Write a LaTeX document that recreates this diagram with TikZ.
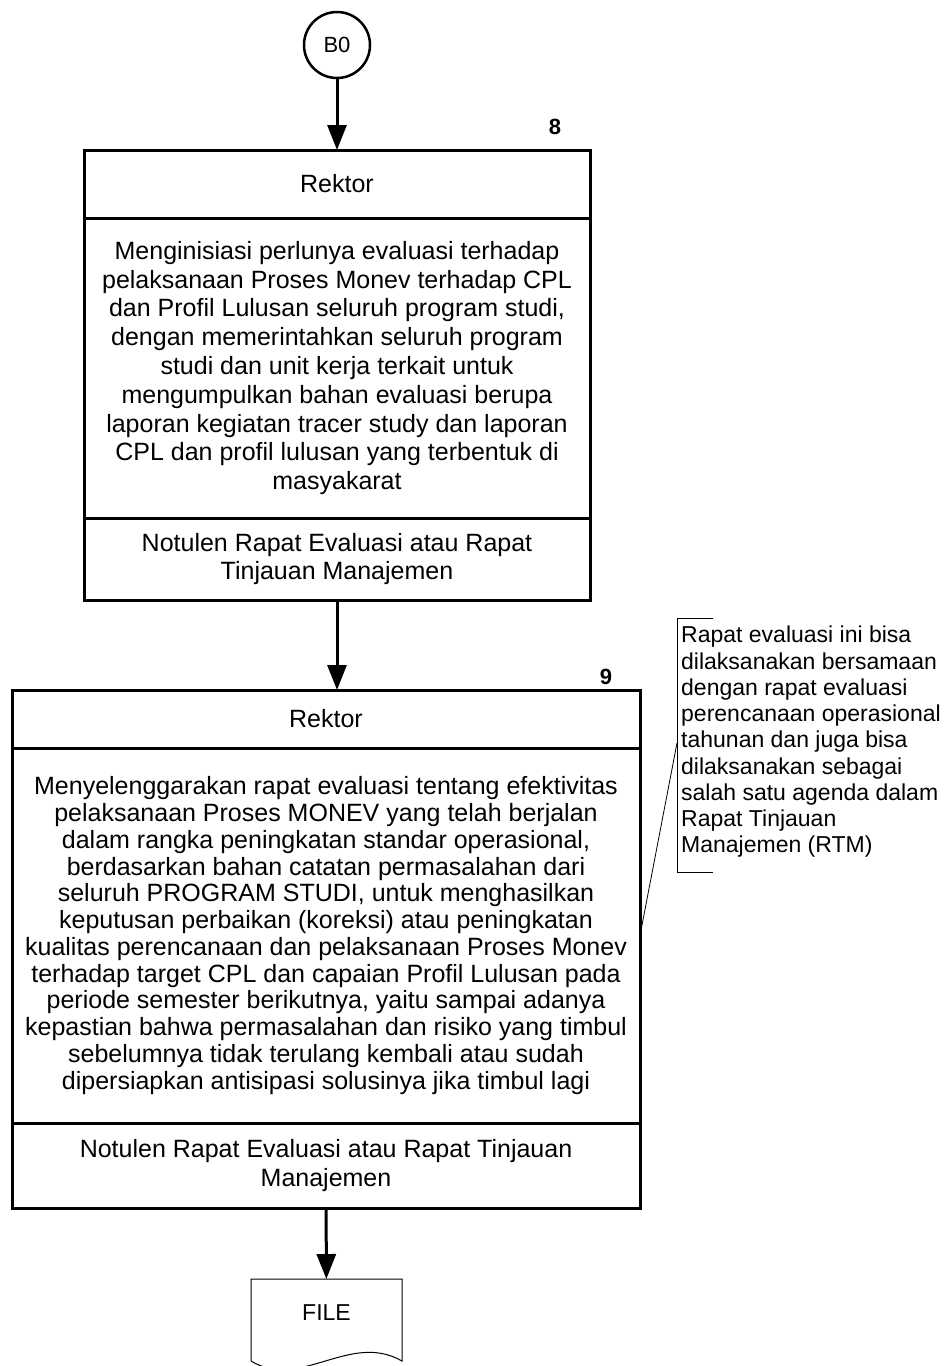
\documentclass[tikz,border=0pt]{standalone}
\usepackage{fontspec}
\setmainfont{Liberation Sans}
\usetikzlibrary{positioning,arrows.meta}

\begin{document}
\begin{tikzpicture}[x=1pt,y=-1pt,
  box/.style={draw,line width=3pt,inner sep=0pt,outer sep=0pt,align=center,font=\fontsize{25}{28.5}\selectfont},
  flow/.style={line width=3pt,-{Triangle[length=25pt,width=19pt]}},
  num/.style={font=\fontsize{22}{24}\selectfont\bfseries}]
\useasboundingbox (0,0) rectangle (943,1366);
  \node[circle,draw,line width=2.5pt,minimum size=66pt,inner sep=0pt,font=\fontsize{22}{24}\selectfont] (b0) at (337,45) {B0};

  \node[box,minimum width=506pt,minimum height=68pt] (r8) at (337,184) {Rektor};
  \node[box,minimum width=506pt,minimum height=300pt,below=0pt of r8,font=\fontsize{25}{28.8}\selectfont] (a8) {Menginisiasi perlunya evaluasi terhadap\\pelaksanaan Proses Monev terhadap CPL\\dan Profil Lulusan seluruh program studi,\\dengan memerintahkan seluruh program\\studi dan unit kerja terkait untuk\\mengumpulkan bahan evaluasi berupa\\laporan kegiatan tracer study dan laporan\\CPL dan profil lulusan yang terbentuk di\\masyakarat};
  \node[box,minimum width=506pt,minimum height=82pt,below=0pt of a8] (d8) {Notulen Rapat Evaluasi atau Rapat\\Tinjauan Manajemen};
  \node[num] (n8) at (555,127) {8};

  \node[box,minimum width=628pt,minimum height=58pt] (r9) at (326,719) {Rektor};
  \node[box,minimum width=628pt,minimum height=375pt,below=0pt of r9,font=\fontsize{25}{26.75}\selectfont] (a9) {Menyelenggarakan rapat evaluasi tentang efektivitas\\pelaksanaan Proses MONEV yang telah berjalan\\dalam rangka peningkatan standar operasional,\\berdasarkan bahan catatan permasalahan dari\\seluruh PROGRAM STUDI, untuk menghasilkan\\keputusan perbaikan (koreksi) atau peningkatan\\kualitas perencanaan dan pelaksanaan Proses Monev\\terhadap target CPL dan capaian Profil Lulusan pada\\periode semester berikutnya, yaitu sampai adanya\\kepastian bahwa permasalahan dan risiko yang timbul\\sebelumnya tidak terulang kembali atau sudah\\dipersiapkan antisipasi solusinya jika timbul lagi};
  \node[box,minimum width=628pt,minimum height=85pt,below=0pt of a9] (d9) {Notulen Rapat Evaluasi atau Rapat Tinjauan\\Manajemen};
  \node[num] (n9) at (606,677) {9};

  % catatan
  \node[anchor=west,inner sep=0pt,align=left,font=\fontsize{23}{26.25}\selectfont] (note) at (681,742) {Rapat evaluasi ini bisa\\dilaksanakan bersamaan\\dengan rapat evaluasi\\perencanaan operasional\\tahunan dan juga bisa\\dilaksanakan sebagai\\salah satu agenda dalam\\Rapat Tinjauan\\Manajemen (RTM)};
  \coordinate (brk) at (677,743);
  \draw[line width=0.8pt] (713,618) -- (677,618) -- (677,872) -- (713,872);
  \draw[line width=0.8pt] (brk) -- (a9.east);

  % dokumen
  \node[minimum width=151pt,minimum height=82pt,outer sep=0pt] (file) at (326.5,1320) {};
  \draw[line width=1pt] (file.south west) -- (file.north west) -- (file.north east) -- (file.south east)
    .. controls (350,1331) and (300,1391) .. (file.south west);
  \node[font=\fontsize{23}{26}\selectfont] (filetxt) at (326.5,1313) {FILE};

  \draw[flow] (b0) -- (r8);
  \draw[flow] (d8.south) -- (d8.south |- r9.north);
  \draw[flow] (d9) -- (file);
\end{tikzpicture}
\end{document}
